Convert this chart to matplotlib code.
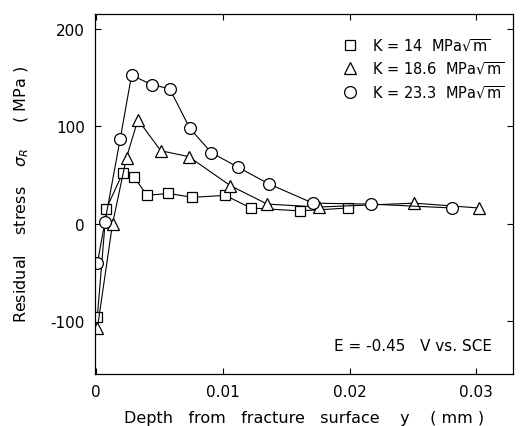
import matplotlib
matplotlib.use("Agg")
import matplotlib.pyplot as plt

# residual stress profiles under fracture surface, three stress intensity levels
depth_k14 = [0.0001, 0.0008, 0.0021, 0.0030, 0.0040, 0.0057, 0.0076, 0.0102, 0.0122, 0.0161, 0.0199]
stress_k14 = [-96, 15, 52, 48, 29, 31, 27, 29, 16, 13, 16]

depth_k186 = [0.0001, 0.0013, 0.0024, 0.0033, 0.0051, 0.0073, 0.0106, 0.0135, 0.0176, 0.0251, 0.0302]
stress_k186 = [-108, 0, 68, 107, 75, 69, 39, 20, 17, 21, 16]

depth_k233 = [0.0001, 0.0007, 0.0019, 0.0028, 0.0044, 0.0058, 0.0074, 0.0091, 0.0112, 0.0136, 0.0171, 0.0217, 0.0281]
stress_k233 = [-41, 2, 87, 153, 143, 139, 98, 73, 58, 41, 21, 20, 16]

labels = [r"K = 14  MPa$\sqrt{\rm m}$",
          r"K = 18.6  MPa$\sqrt{\rm m}$",
          r"K = 23.3  MPa$\sqrt{\rm m}$"]

x_ticks = [0, 0.01, 0.02, 0.03]
x_ticklabels = ["0", "0.01", "0.02", "0.03"]
y_ticks = [-100, 0, 100, 200]

plt.rcParams["font.family"] = "DejaVu Sans"
plt.rcParams["axes.unicode_minus"] = False

fig = plt.figure(figsize=(5.21, 4.27), dpi=100)
ax = fig.add_axes([0.182, 0.122, 0.803, 0.843])

style = dict(color="black", lw=0.8, mfc="white", mec="black", mew=0.9)
ax.plot(depth_k14, stress_k14, marker="s", ms=7.5, label=labels[0], **style)
ax.plot(depth_k186, stress_k186, marker="^", ms=8, label=labels[1], **style)
ax.plot(depth_k233, stress_k233, marker="o", ms=8.5, label=labels[2], **style)

ax.set_xlim(-0.0001, 0.0329)
ax.set_ylim(-155, 216)
ax.set_xticks(x_ticks)
ax.set_xticklabels(x_ticklabels)
ax.set_yticks(y_ticks)
ax.tick_params(direction="in", length=4, width=0.8, labelsize=11,
               top=True, right=True, pad=7)
for sp in ax.spines.values():
    sp.set_linewidth(0.9)

ax.set_xlabel("Depth   from   fracture   surface    y    ( mm )",
              fontsize=11.5, labelpad=8)
ax.set_ylabel(r"Residual    stress    $\sigma_R$     ( MPa )",
              fontsize=11.5, labelpad=14)

leg = ax.legend(loc="upper right", bbox_to_anchor=(1.01, 0.975), frameon=False,
                fontsize=10.5, handlelength=1.0, handletextpad=1.0,
                labelspacing=0.45)
for h in leg.legend_handles:
    h.set_linestyle("none")

ax.text(0.95, 0.08, "E = -0.45   V vs. SCE", transform=ax.transAxes,
        ha="right", va="center", fontsize=11)

fig.savefig("out.png", dpi=100)
